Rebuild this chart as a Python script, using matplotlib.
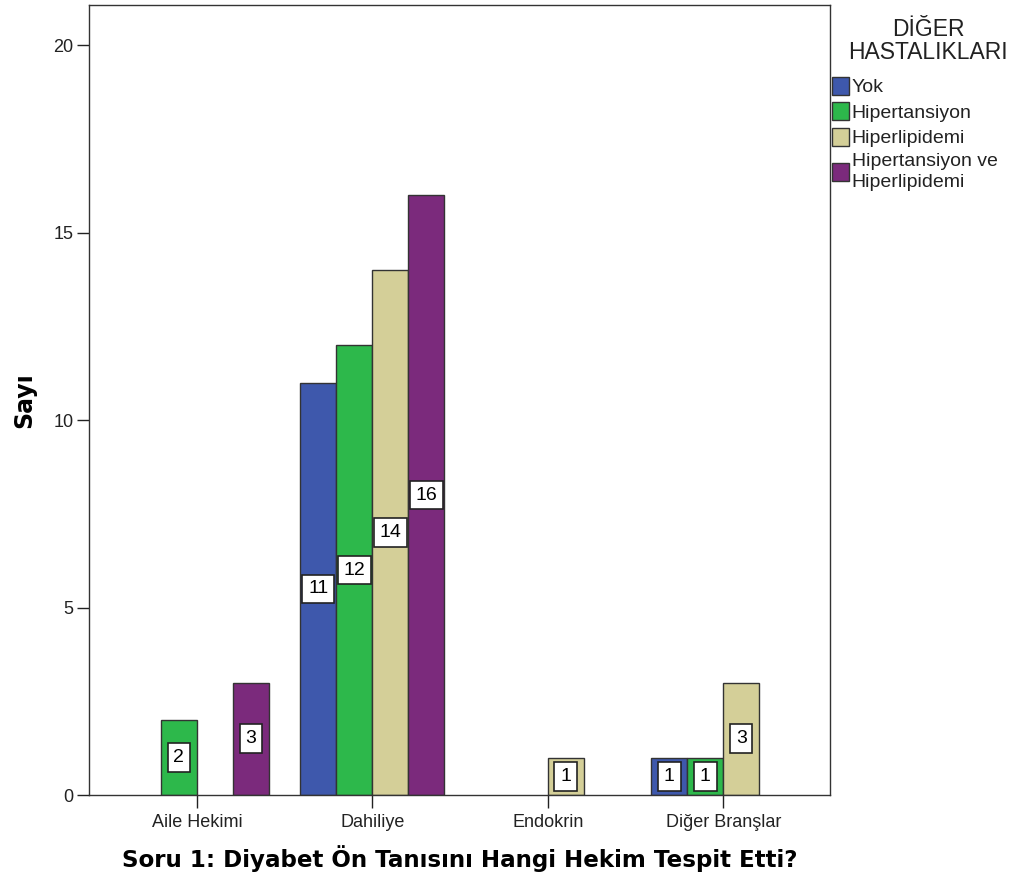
import numpy as np
import matplotlib
matplotlib.use('Agg')
import matplotlib.pyplot as plt

plt.rcParams['font.family'] = ['Liberation Sans', 'DejaVu Sans']

categories = ['Aile Hekimi', 'Dahiliye', 'Endokrin', 'Diğer Branşlar']
groups = ['Yok', 'Hipertansiyon', 'Hiperlipidemi', 'Hipertansiyon ve\nHiperlipidemi']
colors = ['#3e58ac', '#2db84b', '#d4cf98', '#7b2a7c']

# counts per group, one value per category (0 = no bar)
yok = [0, 11, 0, 1]
hipertansiyon = [2, 12, 0, 1]
hiperlipidemi = [0, 14, 1, 3]
ht_hl = [3, 16, 0, 0]
series = [yok, hipertansiyon, hiperlipidemi, ht_hl]

fig = plt.figure(figsize=(10.2, 8.81), dpi=100)
ax = fig.add_axes([0.087, 0.0976, 0.727, 0.8964])

x = np.arange(len(categories))
w = 0.205
for i, (vals, col, lab) in enumerate(zip(series, colors, groups)):
    pos = x + (i - 1.5) * w
    vals = np.array(vals, dtype=float)
    mask = vals > 0
    ax.bar(pos[mask], vals[mask], width=w, color=col, edgecolor='#333333',
           linewidth=1.0, label=lab)
    for p, v in zip(pos[mask], vals[mask]):
        ax.text(p, v / 2, '%d' % v, ha='center', va='center', fontsize=14,
                bbox=dict(boxstyle='square,pad=0.3', fc='white', ec='#222222', lw=1.2))

ax.set_xlim(-0.616, 3.61)
ax.set_ylim(0, 21.07)
ax.set_xticks(x)
ax.set_xticklabels(categories, fontsize=13, color='#222222')
ax.set_yticks([0, 5, 10, 15, 20])
ax.tick_params(axis='y', labelsize=13, length=9, width=1.0, colors='#222222', pad=2)
ax.tick_params(axis='x', length=9, width=1.0, colors='#222222', pad=5)
for s in ax.spines.values():
    s.set_color('#333333')
    s.set_linewidth(1.0)

ax.set_ylabel('Sayı', fontsize=17, fontweight='bold', family='DejaVu Sans', labelpad=12)
ax.set_xlabel('Soru 1: Diyabet Ön Tanısını Hangi Hekim Tespit Etti?', fontsize=16.6,
              fontweight='bold', family='DejaVu Sans', labelpad=10)

# legend title drawn separately so the gap below it matches
fig.text(0.91, 0.9535, 'DİĞER\nHASTALIKLARI', ha='center', va='center',
         multialignment='center', fontsize=16.5, color='#222222', linespacing=1.05)

leg = ax.legend(loc='upper left', bbox_to_anchor=(1.0, 0.912), frameon=False,
                fontsize=14, handlelength=0.85, handleheight=1.05, handletextpad=0.15,
                labelspacing=0.30, borderaxespad=0.1, borderpad=0.0)
for t in leg.get_texts():
    t.set_color('#222222')
    t.set_linespacing(1.3)

fig.savefig('out.png', dpi=100)
